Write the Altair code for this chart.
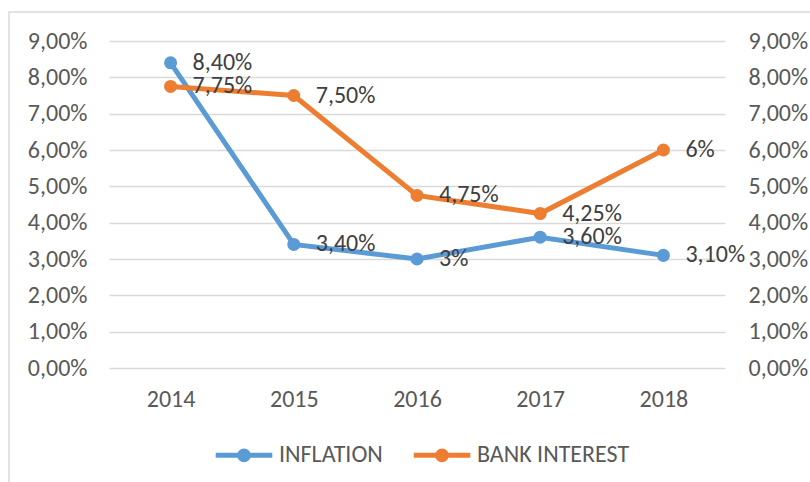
import altair as alt
import pandas as pd

years = ["2014", "2015", "2016", "2017", "2018"]
series_names = ["INFLATION", "BANK INTEREST"]
inflation = [0.084, 0.034, 0.030, 0.036, 0.031]
bank_interest = [0.0775, 0.075, 0.0475, 0.0425, 0.06]
inflation_labels = ["8,40%", "3,40%", "3%", "3,60%", "3,10%"]
bank_labels = ["7,75%", "7,50%", "4,75%", "4,25%", "6%"]
colors = ["#5B9BD5", "#ED7D31"]

rows = []
for y, v, l in zip(years, inflation, inflation_labels):
    rows.append({"year": y, "series": series_names[0], "value": v, "label": l})
for y, v, l in zip(years, bank_interest, bank_labels):
    rows.append({"year": y, "series": series_names[1], "value": v, "label": l})
df = pd.DataFrame(rows)

FONT = "Carlito, Lato, sans-serif"
FS = 24
AXIS_COLOR = "#595959"
GRID = "#D9D9D9"
label_expr = "replace(format(datum.value, '.2%'), '.', ',')"

xenc = alt.X("year:O", scale=alt.Scale(type="point", padding=0.5),
             axis=alt.Axis(title=None, labelAngle=0, domain=False, ticks=False,
                           labelPadding=19, labelFont=FONT, labelFontSize=FS,
                           labelColor=AXIS_COLOR))
yscale = alt.Scale(domain=[0, 0.09], nice=False)

legend_path = ("M-4,0H4"
               "M-0.62,0A0.62,0.62 0 1,1 0.62,0A0.62,0.62 0 1,1 -0.62,0Z"
               "M-0.21,0A0.21,0.21 0 1,1 0.21,0A0.21,0.21 0 1,1 -0.21,0Z")

color_legend = alt.Color(
    "series:N", scale=alt.Scale(domain=series_names, range=colors),
    legend=alt.Legend(
        title=None, orient="none", direction="horizontal",
        legendX=123, legendY=402,
        symbolType=legend_path,
        symbolSize=200, symbolStrokeWidth=5,
        labelFont=FONT, labelFontSize=FS, labelColor=AXIS_COLOR,
        labelOffset=23, columnPadding=20, padding=0,
        labelLimit=300))
color_nolegend = alt.Color("series:N", scale=alt.Scale(domain=series_names, range=colors),
                           legend=None)

base = alt.Chart(df)

left_axis = alt.Axis(title=None, orient="left", values=[i / 100 for i in range(10)],
                     labelExpr=label_expr, grid=True, gridColor=GRID, gridWidth=1.5,
                     domain=False, ticks=False, labelPadding=22, labelFont=FONT,
                     labelFontSize=FS, labelColor=AXIS_COLOR)
right_axis = alt.Axis(title=None, orient="right", values=[i / 100 for i in range(10)],
                      labelExpr=label_expr, grid=False,
                      domain=False, ticks=False, labelPadding=23, labelFont=FONT,
                      labelFontSize=FS, labelColor=AXIS_COLOR)

lines = base.mark_line(strokeWidth=5).encode(
    x=xenc, y=alt.Y("value:Q", scale=yscale, axis=left_axis), color=color_legend,
    detail="series:N")
points = base.mark_point(filled=True, size=170, opacity=1).encode(
    x=xenc, y=alt.Y("value:Q", scale=yscale, axis=left_axis), color=color_nolegend)
texts = base.mark_text(align="left", baseline="middle", dx=22, font=FONT,
                       fontSize=FS, color="#404040").encode(
    x=xenc, y=alt.Y("value:Q", scale=yscale, axis=left_axis), text="label:N")

left_layer = alt.layer(lines, points, texts)

right_layer = base.mark_point(opacity=0).encode(
    x=xenc, y=alt.Y("value:Q", scale=yscale, axis=right_axis))

frame = alt.Chart(alt.Data(values=[{"a": 1}])).mark_rect(
    fillOpacity=0, stroke=GRID, strokeWidth=1.5).encode(
    x=alt.value(-100), x2=alt.value(711), y=alt.value(-29), y2=alt.value(451))

chart = alt.layer(frame, left_layer, right_layer).resolve_scale(
    y="independent").properties(
    width=616, height=327,
    autosize=alt.AutoSizeParams(type="none"),
    padding={"left": 109, "top": 41, "right": 85, "bottom": 114},
    background="white",
).configure_view(strokeWidth=0)

chart.save("out.html", embed_options={"renderer": "svg", "actions": False})
